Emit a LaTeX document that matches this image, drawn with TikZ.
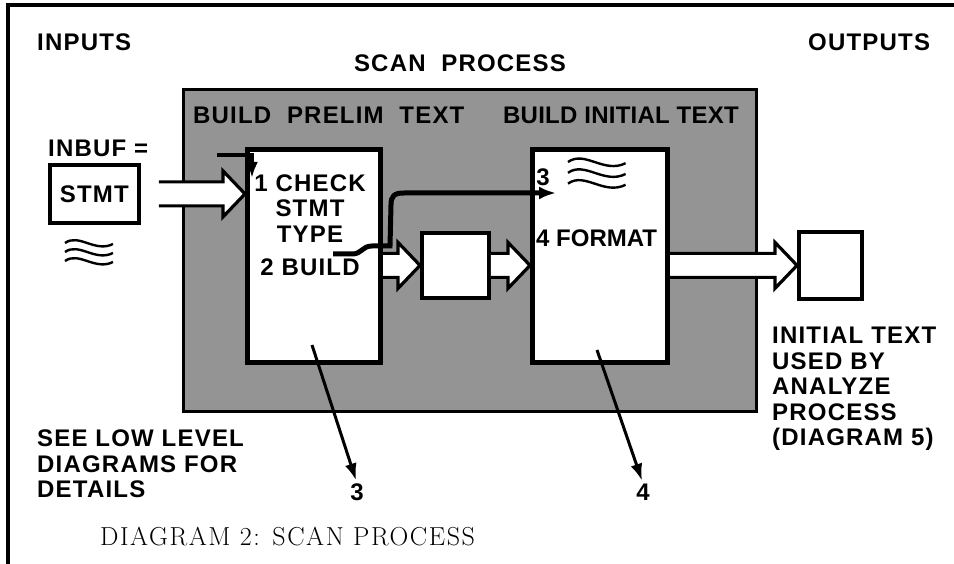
\documentclass[tikz,border=0pt]{standalone}
\usepackage{fontspec}
\setsansfont{Liberation Sans}[LetterSpace=5]
\newfontfamily\capfont{Latin Modern Roman}[LetterSpace=6]
\usetikzlibrary{arrows.meta}
\usetikzlibrary{calc}

\begin{document}
\begin{tikzpicture}[x=1pt,y=-1pt,
  lab/.style={font=\sffamily\bfseries\fontsize{24}{25.5}\selectfont,inner sep=0pt},
  proc/.style={draw,line width=5pt,fill=white,anchor=north west,inner sep=0pt},
  store/.style={draw,line width=3.8pt,fill=white,anchor=north west,inner sep=0pt},
  fat/.style={draw,line width=3.2pt,fill=white,
    to path={let \p1=(\tikztostart),\p2=(\tikztotarget) in
      (\x1,\y1+12pt) -- (\x2-22pt,\y2+12pt) -- (\x2-22pt,\y2+23pt) -- (\x2,\y2)
      -- (\x2-22pt,\y2-23pt) -- (\x2-22pt,\y2-12pt) -- (\x1,\y1-12pt)}},
  ptr/.style={line width=3pt,shorten >=3pt,-{Latex[length=17pt,width=12pt]}},
  waves/.pic={\foreach \k in {0,1,2}
    \draw[line width=2.4pt] (0,\k*9) .. controls (14,\k*9-10) and (30,\k*9+10) .. (48,\k*9+1);}]
\useasboundingbox (0,0) rectangle (954,564);
\draw[line width=4pt] (954,5) -- (8,5) -- (8,564);

\node[lab,anchor=west] (inputs) at (37,42) {INPUTS};
\node[lab,anchor=west] (outputs) at (808,42) {OUTPUTS};
\node[lab] (scan) at (460,63) {SCAN\ \ PROCESS};

% scan process area
\node[draw,line width=3pt,fill=black!42,anchor=north west,minimum width=573,minimum height=322] (scanbox) at (182,88) {};
\node[lab,anchor=west] (prelim) at (193,115) {BUILD\ \ PRELIM\ \ TEXT};
\node[lab,anchor=west] (initial) at (503,115) {\addfontfeature{LetterSpace=1}BUILD INITIAL TEXT};

\node[proc,minimum width=133,minimum height=213] (chk) at (245,147) {};
\node[proc,minimum width=135,minimum height=213] (fmt) at (530,147) {};
\node[store,minimum width=67,minimum height=65] (buf) at (420,231) {};
\node[store,minimum width=63,minimum height=67] (out) at (797,230) {};

\node[lab,anchor=west] (inbuf) at (48,148) {INBUF =};
\node[store,lab,minimum width=89,minimum height=58] (stmt) at (48,163) {STMT};
\pic at (65,243) {waves};

\node[lab,align=center] (chktxt) at (310,225) {1 CHECK\\STMT\\TYPE\\[8pt]2 BUILD};
\node[lab] (three) at (543,177) {3};
\pic[scale=1.2] at (568,162) {waves};
\node[lab,anchor=west] (fmttxt) at (536,238) {\addfontfeature{LetterSpace=0}4 FORMAT};

% flows
\draw[fat] ([xshift=18pt]stmt.east) to (chk.west |- stmt.east);
\draw[fat] (chk.east |- buf.west) to (buf.west);
\draw[fat] (buf.east) to (fmt.west |- buf.east);
\draw[fat] (fmt.east |- out.west) to (out.west);

\coordinate (wstart) at (333,254);
\coordinate (wend) at (556,193);
\draw[line width=5pt,-{Latex[length=17pt,width=13pt]}] (wstart) -- (352,254)
  .. controls (362,254) and (362,246) .. (372,246) -- (390,246) -- (391,205)
  .. controls (391,196) and (394,193) .. (404,193) -- (wend);

\coordinate (ctl) at (217,155);
\coordinate (ctlend) at (252,178);
\draw[line width=3.5pt,-{Latex[length=16pt,width=12pt]}] (ctl) -| (ctlend);

% pointers to lower levels
\node[lab] (see3) at (357,492) {3};
\node[lab] (see4) at (643,492) {4};
\coordinate (p3) at (312,345);
\coordinate (p4) at (597,350);
\draw[ptr] (p3) -- (see3.north);
\draw[ptr] (p4) -- (see4.north);

\node[lab,anchor=north west,align=left] (note) at (37,430) {SEE LOW LEVEL\\DIAGRAMS FOR\\DETAILS};
\node[lab,anchor=north west,align=left] (used) at (772,327) {INITIAL TEXT\\USED BY\\ANALYZE\\PROCESS\\(DIAGRAM 5)};

\node[font=\capfont\fontsize{26}{28}\selectfont,anchor=west,inner sep=0pt] (caption) at (100,537) {DIAGRAM 2: SCAN PROCESS};
\end{tikzpicture}
\end{document}
